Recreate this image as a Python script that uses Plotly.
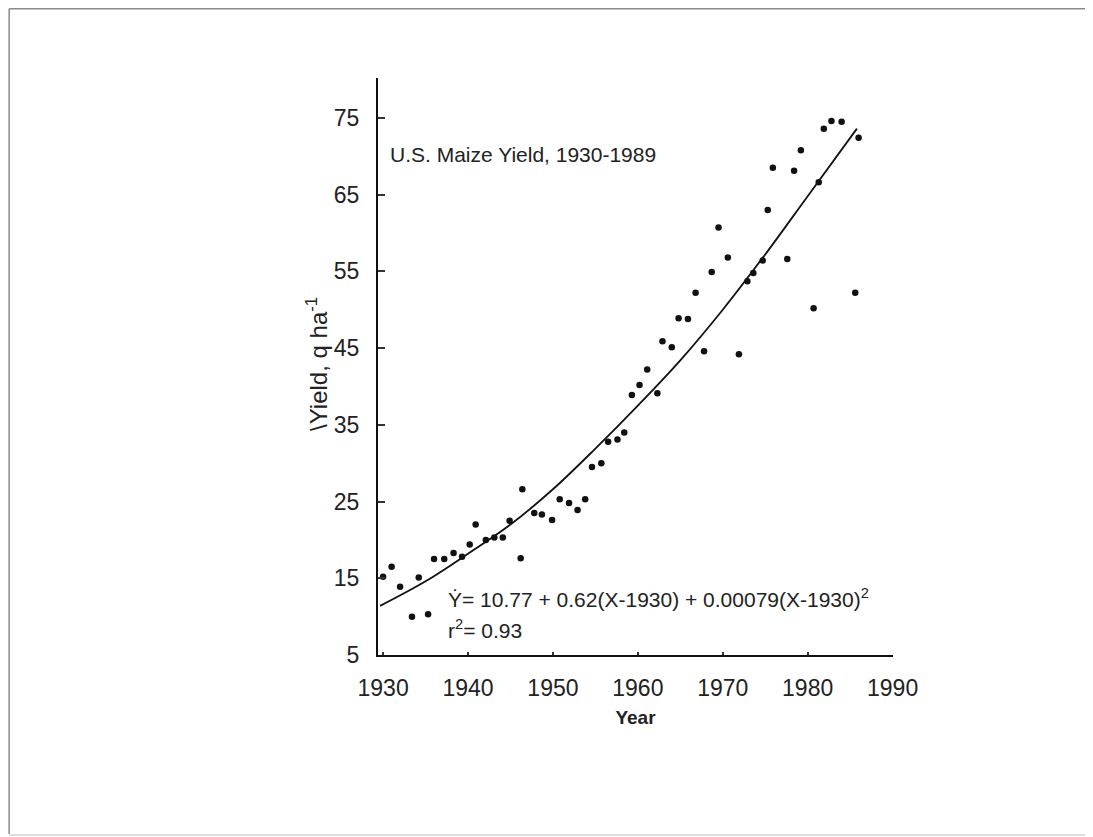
import plotly.graph_objects as go

# Data (year, yield in q/ha)
years = [1930.0, 1931.0, 1932.0, 1933.4, 1934.2, 1935.3, 1936.0, 1937.2, 1938.3, 1939.3,
         1940.2, 1940.9, 1942.1, 1943.1, 1944.1, 1944.9, 1946.2, 1946.4, 1947.8, 1948.7,
         1949.9, 1950.8, 1951.9, 1952.9, 1953.8, 1954.6, 1955.7, 1956.5, 1957.6, 1958.4,
         1959.3, 1960.2, 1961.1, 1962.3, 1962.9, 1964.0, 1964.8, 1965.9, 1966.8, 1967.8,
         1968.7, 1969.5, 1970.6, 1971.9, 1972.9, 1973.6, 1974.7, 1975.3, 1975.9, 1977.6,
         1978.4, 1979.2, 1980.7, 1981.3, 1981.9, 1982.8, 1984.0, 1985.6, 1986.0]
yields = [15.2, 16.5, 13.9, 10.0, 15.1, 10.3, 17.5, 17.5, 18.3, 17.8,
          19.4, 22.0, 20.0, 20.3, 20.3, 22.5, 17.6, 26.6, 23.5, 23.3,
          22.6, 25.3, 24.8, 23.9, 25.3, 29.5, 30.0, 32.8, 33.1, 34.0,
          38.9, 40.2, 42.2, 39.1, 45.9, 45.1, 48.9, 48.8, 52.2, 44.6,
          54.9, 60.7, 56.8, 44.2, 53.7, 54.8, 56.4, 63.0, 68.5, 56.6,
          68.1, 70.8, 50.2, 66.6, 73.6, 74.6, 74.5, 52.2, 72.4]

# Fitted trend curve
curve_years = [1929.65, 1935.0, 1940.0, 1945.0, 1950.0, 1955.0, 1960.0, 1965.0, 1970.0, 1975.0, 1980.0, 1985.8]
curve_yields = [11.4, 14.6, 18.2, 22.0, 26.6, 31.9, 37.5, 43.4, 50.0, 57.2, 64.8, 73.6]

x_ticks = [1930, 1940, 1950, 1960, 1970, 1980, 1990]
y_ticks = [5, 15, 25, 35, 45, 55, 65, 75]

title_text = "U.S. Maize Yield, 1930-1989"
eq_text = "Ẏ= 10.77 + 0.62(X-1930) + 0.00079(X-1930)<sup>2</sup>"
r2_text = "r<sup>2</sup>= 0.93"
y_title = "\\Yield, q ha<sup>-1</sup>"
x_title = "<b>Year</b>"

# page has an 8px body margin; figure is placed at (8, 8)
OFF = 8
W, H = 1085, 829
L, R, T, B = 378 - OFF, 893.5 - OFF, 78.2 - OFF, 655 - OFF


def px(x):  # screen x -> paper
    return (x - OFF - L) / (R - L)


def py(y):  # screen y -> paper
    return (B - (y - OFF)) / (B - T)


fig = go.Figure()
fig.add_trace(go.Scatter(x=curve_years, y=curve_yields, mode="lines",
                         line=dict(color="#111111", width=1.8, shape="spline", smoothing=1.0),
                         hoverinfo="skip", showlegend=False))
fig.add_trace(go.Scatter(x=years, y=yields, mode="markers",
                         marker=dict(symbol="circle", size=6.5, color="#111111"),
                         showlegend=False))

font = "Liberation Sans, Arial, Helvetica, sans-serif"
txt = "#222222"

fig.update_layout(
    width=W, height=H,
    margin=dict(l=L, r=W - R, t=T, b=H - B, autoexpand=False),
    paper_bgcolor="white", plot_bgcolor="white",
    font=dict(family=font, color=txt),
    xaxis=dict(range=[1929.4, 1990.05], tickvals=x_ticks, showgrid=False, zeroline=False,
               showline=True, linecolor="#111111", linewidth=2,
               ticks="inside", ticklen=3, tickwidth=1.5, tickcolor="#333333",
               ticklabelstandoff=11, tickfont=dict(size=23, family=font, color=txt),
               title=dict(text=x_title, font=dict(size=19, family=font, color=txt),
                          standoff=11)),
    yaxis=dict(range=[5, 80.2], tickvals=y_ticks, showgrid=False, zeroline=False,
               showline=True, linecolor="#111111", linewidth=2,
               ticks="inside", ticklen=7, tickwidth=1.5, tickcolor="#333333",
               ticklabelstandoff=12, tickfont=dict(size=23, family=font, color=txt)),
    annotations=[
        dict(text=y_title, xref="paper", yref="paper", x=px(317), y=py(364),
             xanchor="center", yanchor="middle", textangle=-90, showarrow=False,
             font=dict(size=24, family=font, color=txt)),
        dict(text=title_text, xref="paper", yref="paper", x=px(388), y=py(155),
             xanchor="left", yanchor="middle", showarrow=False,
             font=dict(size=21, family=font, color=txt)),
        dict(text=eq_text, xref="paper", yref="paper", x=px(446), y=py(598),
             xanchor="left", yanchor="middle", showarrow=False,
             font=dict(size=21, family=font, color=txt)),
        dict(text=r2_text, xref="paper", yref="paper", x=px(446), y=py(629),
             xanchor="left", yanchor="middle", showarrow=False,
             font=dict(size=21, family=font, color=txt)),
    ],
    shapes=[
        dict(type="line", xref="paper", yref="paper", x0=px(8.8), x1=px(1090), y0=py(9), y1=py(9),
             line=dict(color="#8a8a8a", width=1.5), layer="below"),
        dict(type="line", xref="paper", yref="paper", x0=px(8.8), x1=px(8.8), y0=py(9), y1=py(834),
             line=dict(color="#8a8a8a", width=1.5), layer="below"),
        dict(type="line", xref="paper", yref="paper", x0=px(8.8), x1=px(1090), y0=py(835), y1=py(835),
             line=dict(color="#d5d5d5", width=1.5), layer="below"),
        dict(type="line", xref="paper", yref="paper", x0=px(1089), x1=px(1089), y0=py(9), y1=py(835),
             line=dict(color="#e6e6e6", width=1.5), layer="below"),
    ],
)

fig.write_html("out.html")
